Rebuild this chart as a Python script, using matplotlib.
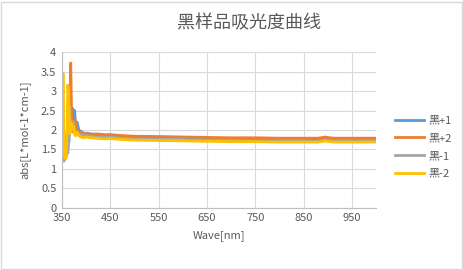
import matplotlib
matplotlib.use('Agg')
import matplotlib.pyplot as plt
from matplotlib.patches import Rectangle

plt.rcParams['font.family'] = ['Noto Sans CJK SC', 'DejaVu Sans']

# wavelength grid (nm)
wave = [351, 352, 354, 356, 358, 360, 362, 364, 366, 368,
        370, 372, 374, 376, 378, 381, 385, 390, 395, 400,
        410, 420, 430, 440, 450, 470, 500, 550, 600, 650,
        700, 750, 800, 850, 880, 895, 905, 915, 950, 1000]

hei_p1 = [1.3, 2.1, 1.5, 1.8, 1.4, 1.9, 2.0, 1.7, 2.1, 2.3,
          2.0, 2.55, 2.3, 2.5, 2.1, 2.2, 2.0, 1.95, 1.9, 1.92,
          1.9, 1.88, 1.87, 1.86, 1.87, 1.84, 1.82, 1.82, 1.81, 1.79,
          1.78, 1.77, 1.77, 1.76, 1.76, 1.78, 1.77, 1.76, 1.75, 1.75]
hei_p2 = [1.5, 1.9, 1.3, 1.7, 1.4, 1.8, 1.6, 1.9, 2.4, 3.72,
          2.2, 1.95, 2.0, 2.2, 2.25, 2.0, 1.9, 1.95, 1.92, 1.9,
          1.88, 1.9, 1.89, 1.88, 1.88, 1.86, 1.84, 1.83, 1.82, 1.81,
          1.8, 1.8, 1.79, 1.79, 1.79, 1.82, 1.8, 1.79, 1.79, 1.79]
hei_m1 = [2.7, 1.6, 1.2, 1.5, 1.3, 1.6, 1.4, 1.7, 2.6, 2.0,
          2.1, 2.0, 2.2, 2.0, 1.9, 1.95, 1.9, 1.88, 1.85, 1.86,
          1.83, 1.82, 1.81, 1.8, 1.81, 1.79, 1.77, 1.76, 1.75, 1.74,
          1.73, 1.72, 1.72, 1.72, 1.71, 1.74, 1.73, 1.72, 1.72, 1.72]
hei_m2 = [1.4, 3.45, 1.3, 1.5, 1.25, 1.9, 3.15, 2.9, 1.9, 2.2,
          2.15, 2.0, 2.1, 1.9, 1.85, 1.95, 1.85, 1.82, 1.8, 1.82,
          1.8, 1.79, 1.78, 1.77, 1.78, 1.76, 1.74, 1.73, 1.72, 1.71,
          1.7, 1.7, 1.69, 1.69, 1.69, 1.72, 1.7, 1.69, 1.69, 1.69]

labels = ['黑+1', '黑+2', '黑-1', '黑-2']
colors = ['#5B9BD5', '#ED7D31', '#A5A5A5', '#FFC000']
x_ticks = [350, 450, 550, 650, 750, 850, 950]
y_ticks = [0, 0.5, 1, 1.5, 2, 2.5, 3, 3.5, 4]

txt = '#595959'
fig = plt.figure(figsize=(4.63, 2.70), dpi=100)
ax = fig.add_axes([0.134, 0.230, 0.678, 0.577])

for ys, lab, c in zip([hei_p1, hei_p2, hei_m1, hei_m2], labels, colors):
    ax.plot(wave, ys, color=c, lw=2, label=lab, solid_joinstyle='round')

ax.set_xlim(350, 1000)
ax.set_ylim(0, 4)
ax.set_xticks(x_ticks)
ax.set_yticks(y_ticks)
ax.set_yticklabels([f'{v:g}' for v in y_ticks])
ax.grid(True, color='#D9D9D9', lw=0.8)
ax.set_axisbelow(True)
for s in ['top', 'right']:
    ax.spines[s].set_visible(False)
for s in ['left', 'bottom']:
    ax.spines[s].set_color('#BFBFBF')
ax.tick_params(length=0, labelsize=8, colors=txt, pad=4)

ax.set_xlabel('Wave[nm]', fontsize=8, color=txt, labelpad=5)
ax.set_ylabel('abs[L*mol-1*cm-1]', fontsize=8, color=txt, labelpad=8)
fig.text(0.537, 0.915, '黑样品吸光度曲线', ha='center', va='center',
         fontsize=13, color=txt)

leg = ax.legend(loc='center left', bbox_to_anchor=(1.03, 0.39), frameon=False,
                fontsize=8, labelcolor=txt, handlelength=2.6, labelspacing=0.7,
                handletextpad=0.4)

fig.patches.append(Rectangle((0.002, 0.004), 0.995, 0.99, transform=fig.transFigure,
                             fill=False, edgecolor='#D9D9D9', lw=1))

plt.savefig('out.png', dpi=100)
